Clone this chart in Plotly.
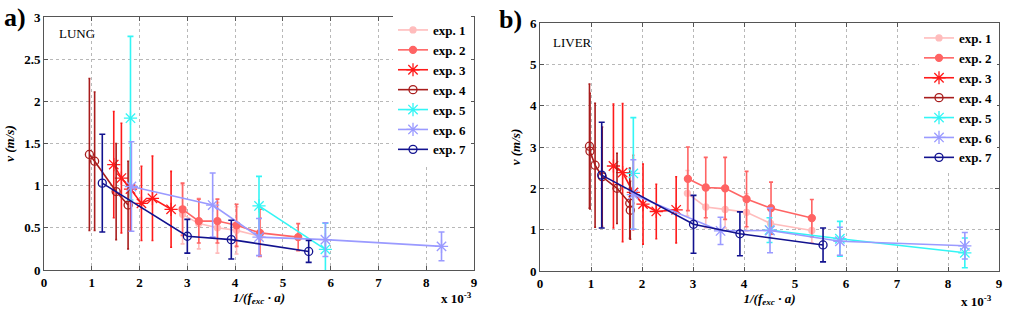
import plotly.graph_objects as go

# ---------------- data ----------------
names = ["exp. 1", "exp. 2", "exp. 3", "exp. 4", "exp. 5", "exp. 6", "exp. 7"]
colors = ["#ffbcbc", "#ff6464", "#ff1a1a", "#a81c1c", "#33f5f5", "#9a9aff", "#12128f"]
symbols = ["circle", "circle", "asterisk-open", "circle-open", "asterisk-open", "asterisk-open", "circle-open"]
msizes = [6, 7, 11, 8, 11, 11, 8]
capw = [2, 2, 1, 1, 3, 3, 3]

x_ticks = [0, 1, 2, 3, 4, 5, 6, 7, 8, 9]
lung_yticks = [0, 0.5, 1, 1.5, 2, 2.5, 3]
liver_yticks = [0, 1, 2, 3, 4, 5, 6]

# LUNG (x in units of 1e-3)
lung_x1 = [2.90, 3.24, 3.63, 4.03, 4.52]
lung_y1 = [0.66, 0.55, 0.50, 0.47, 0.40]
lung_e1 = [0.35, 0.30, 0.30, 0.28, 0.22]
lung_x2 = [2.90, 3.24, 3.63, 4.03, 4.52, 5.32]
lung_y2 = [0.72, 0.58, 0.58, 0.53, 0.44, 0.39]
lung_e2 = [0.31, 0.26, 0.26, 0.25, 0.28, 0.16]
lung_x3 = [1.46, 1.62, 1.81, 2.04, 2.27, 2.66]
lung_y3 = [1.25, 1.09, 0.96, 0.79, 0.85, 0.72]
lung_e3 = [0.63, 0.65, 0.49, 0.44, 0.50, 0.45]
lung_x4 = [0.95, 1.06, 1.51, 1.76]
lung_y4 = [1.37, 1.29, 0.93, 0.77]
lung_e4 = [0.90, 0.82, 0.57, 0.52]
lung_x5 = [1.81, 3.00, 4.50, 5.89]
lung_y5 = [1.80, None, 0.76, 0.245]
lung_e5 = [0.97, 0, 0.35, 0.31]
lung_x6 = [1.83, 3.53, 4.50, 5.89, 8.32]
lung_y6 = [0.99, 0.77, 0.39, 0.36, 0.28]
lung_e6 = [0.53, 0.38, 0.22, 0.20, 0.17]
lung_x7 = [1.22, 3.00, 3.92, 5.54]
lung_y7 = [1.03, 0.40, 0.36, 0.22]
lung_e7 = [0.58, 0.20, 0.23, 0.13]

# LIVER
liver_x1 = [2.89, 3.25, 3.63, 4.05, 4.52, 5.33]
liver_y1 = [1.88, 1.55, 1.49, 1.42, 1.15, 0.98]
liver_e1 = [0.55, 0.50, 0.45, 0.45, 0.35, 0.30]
liver_x2 = [2.90, 3.25, 3.63, 4.05, 4.53, 5.33]
liver_y2 = [2.23, 2.02, 2.00, 1.74, 1.52, 1.28]
liver_e2 = [0.77, 0.73, 0.75, 0.67, 0.63, 0.45]
liver_x3 = [1.44, 1.62, 1.83, 2.02, 2.28, 2.67]
liver_y3 = [2.54, 2.38, 1.90, 1.62, 1.44, 1.48]
liver_e3 = [1.50, 1.67, 0.90, 0.97, 0.66, 0.80]
liver_x4 = [0.97, 0.98, 1.08, 1.22, 1.51, 1.76, 1.77]
liver_y4 = [3.02, 2.90, 2.56, 2.28, 2.00, 1.64, 1.47]
liver_e4 = [1.50, 1.40, 1.50, 1.20, 0.85, 0.85, 0.70]
liver_x5 = [1.83, 3.00, 4.50, 5.88, 8.33]
liver_y5 = [2.36, None, 0.99, 0.78, 0.44]
liver_e5 = [1.35, 0, 0.30, 0.42, 0.36]
liver_x6 = [1.83, 3.54, 4.51, 5.88, 8.33]
liver_y6 = [1.85, 0.97, 0.98, 0.72, 0.61]
liver_e6 = [0.84, 0.33, 0.54, 0.34, 0.32]
liver_x7 = [1.21, 3.01, 3.92, 5.55]
liver_y7 = [2.32, 1.13, 0.90, 0.63]
liver_e7 = [1.28, 0.70, 0.53, 0.41]

lung = [(lung_x1, lung_y1, lung_e1), (lung_x2, lung_y2, lung_e2), (lung_x3, lung_y3, lung_e3),
        (lung_x4, lung_y4, lung_e4), (lung_x5, lung_y5, lung_e5), (lung_x6, lung_y6, lung_e6),
        (lung_x7, lung_y7, lung_e7)]
liver = [(liver_x1, liver_y1, liver_e1), (liver_x2, liver_y2, liver_e2), (liver_x3, liver_y3, liver_e3),
         (liver_x4, liver_y4, liver_e4), (liver_x5, liver_y5, liver_e5), (liver_x6, liver_y6, liver_e6),
         (liver_x7, liver_y7, liver_e7)]

FONT = "Liberation Serif"
fig = go.Figure()

for panel, data, xa, ya, leg in [(0, lung, "x", "y", "legend"), (1, liver, "x2", "y2", "legend2")]:
    for i, (xs, ys, es) in enumerate(data):
        fig.add_trace(go.Scatter(
            x=xs, y=ys, xaxis=xa, yaxis=ya, name=names[i], legend=leg,
            mode="lines+markers", connectgaps=False,
            line=dict(color=colors[i], width=1.6),
            marker=dict(symbol=symbols[i], size=msizes[i], color=colors[i],
                        line=dict(color=colors[i], width=1.3)),
            error_y=dict(type="data", array=es, visible=True, color=colors[i],
                         thickness=1.6, width=capw[i]),
        ))

W, H = 1010, 325
def px_x(p): return p / W
def px_y(p): return 1 - p / H

axis_common = dict(
    showline=True, linecolor="#555555", linewidth=1, mirror="ticks",
    ticks="inside", ticklen=4, tickcolor="#555555",
    showgrid=True, gridcolor="#b8b8b8", griddash="dot", gridwidth=1,
    zeroline=False, automargin=False,
    tickfont=dict(family=FONT, size=13, color="black", weight="bold"),
)
xtitle = dict(text="<i>1/(f<sub>exc</sub> · a)</i>",
              font=dict(family=FONT, size=13, color="black", weight="bold"), standoff=2)
ytitle = dict(text="<i>v (m/s)</i>", font=dict(family=FONT, size=13, color="black", weight="bold"), standoff=6)

legend_common = dict(xanchor="right", yanchor="top", bgcolor="white", borderwidth=0, itemwidth=30,
                     font=dict(family=FONT, size=13, color="black", weight="bold"), tracegroupgap=0)

fig.update_layout(
    width=W, height=H, margin=dict(l=0, r=0, t=0, b=0, autoexpand=False),
    paper_bgcolor="white", plot_bgcolor="white",
    xaxis=dict(axis_common, domain=[px_x(44), px_x(474)], range=[0, 9], tickvals=x_ticks,
               anchor="y", title=xtitle),
    yaxis=dict(axis_common, domain=[px_y(270), px_y(17)], range=[0, 3], tickvals=lung_yticks,
               anchor="x", title=ytitle),
    xaxis2=dict(axis_common, domain=[px_x(540), px_x(999)], range=[0, 9], tickvals=x_ticks,
                anchor="y2", title=xtitle),
    yaxis2=dict(axis_common, domain=[px_y(271), px_y(23)], range=[0, 6], tickvals=liver_yticks,
                anchor="x2", title=ytitle),
    legend=dict(legend_common, x=px_x(471), y=px_y(15)),
    legend2=dict(legend_common, x=px_x(997), y=px_y(23)),
    annotations=[
        dict(text="<b>a)</b>", x=px_x(2), y=px_y(1), xref="paper", yref="paper",
             xanchor="left", yanchor="top", showarrow=False,
             font=dict(family=FONT, size=26, color="black")),
        dict(text="<b>b)</b>", x=px_x(497), y=px_y(3), xref="paper", yref="paper",
             xanchor="left", yanchor="top", showarrow=False,
             font=dict(family=FONT, size=26, color="black")),
        dict(text="LUNG", x=px_x(57), y=px_y(33), xref="paper", yref="paper",
             xanchor="left", yanchor="middle", showarrow=False,
             font=dict(family=FONT, size=13, color="black")),
        dict(text="LIVER", x=px_x(551), y=px_y(42), xref="paper", yref="paper",
             xanchor="left", yanchor="middle", showarrow=False,
             font=dict(family=FONT, size=13, color="black")),
        dict(text="<b>x 10<sup>-3</sup></b>", x=px_x(474), y=px_y(298), xref="paper", yref="paper",
             xanchor="right", yanchor="middle", showarrow=False,
             font=dict(family=FONT, size=13, color="black")),
        dict(text="<b>x 10<sup>-3</sup></b>", x=px_x(994), y=px_y(301), xref="paper", yref="paper",
             xanchor="right", yanchor="middle", showarrow=False,
             font=dict(family=FONT, size=13, color="black")),
    ],
)

fig.write_html("out.html", config={"displayModeBar": False},
               post_script="document.body.style.margin='0px';")
